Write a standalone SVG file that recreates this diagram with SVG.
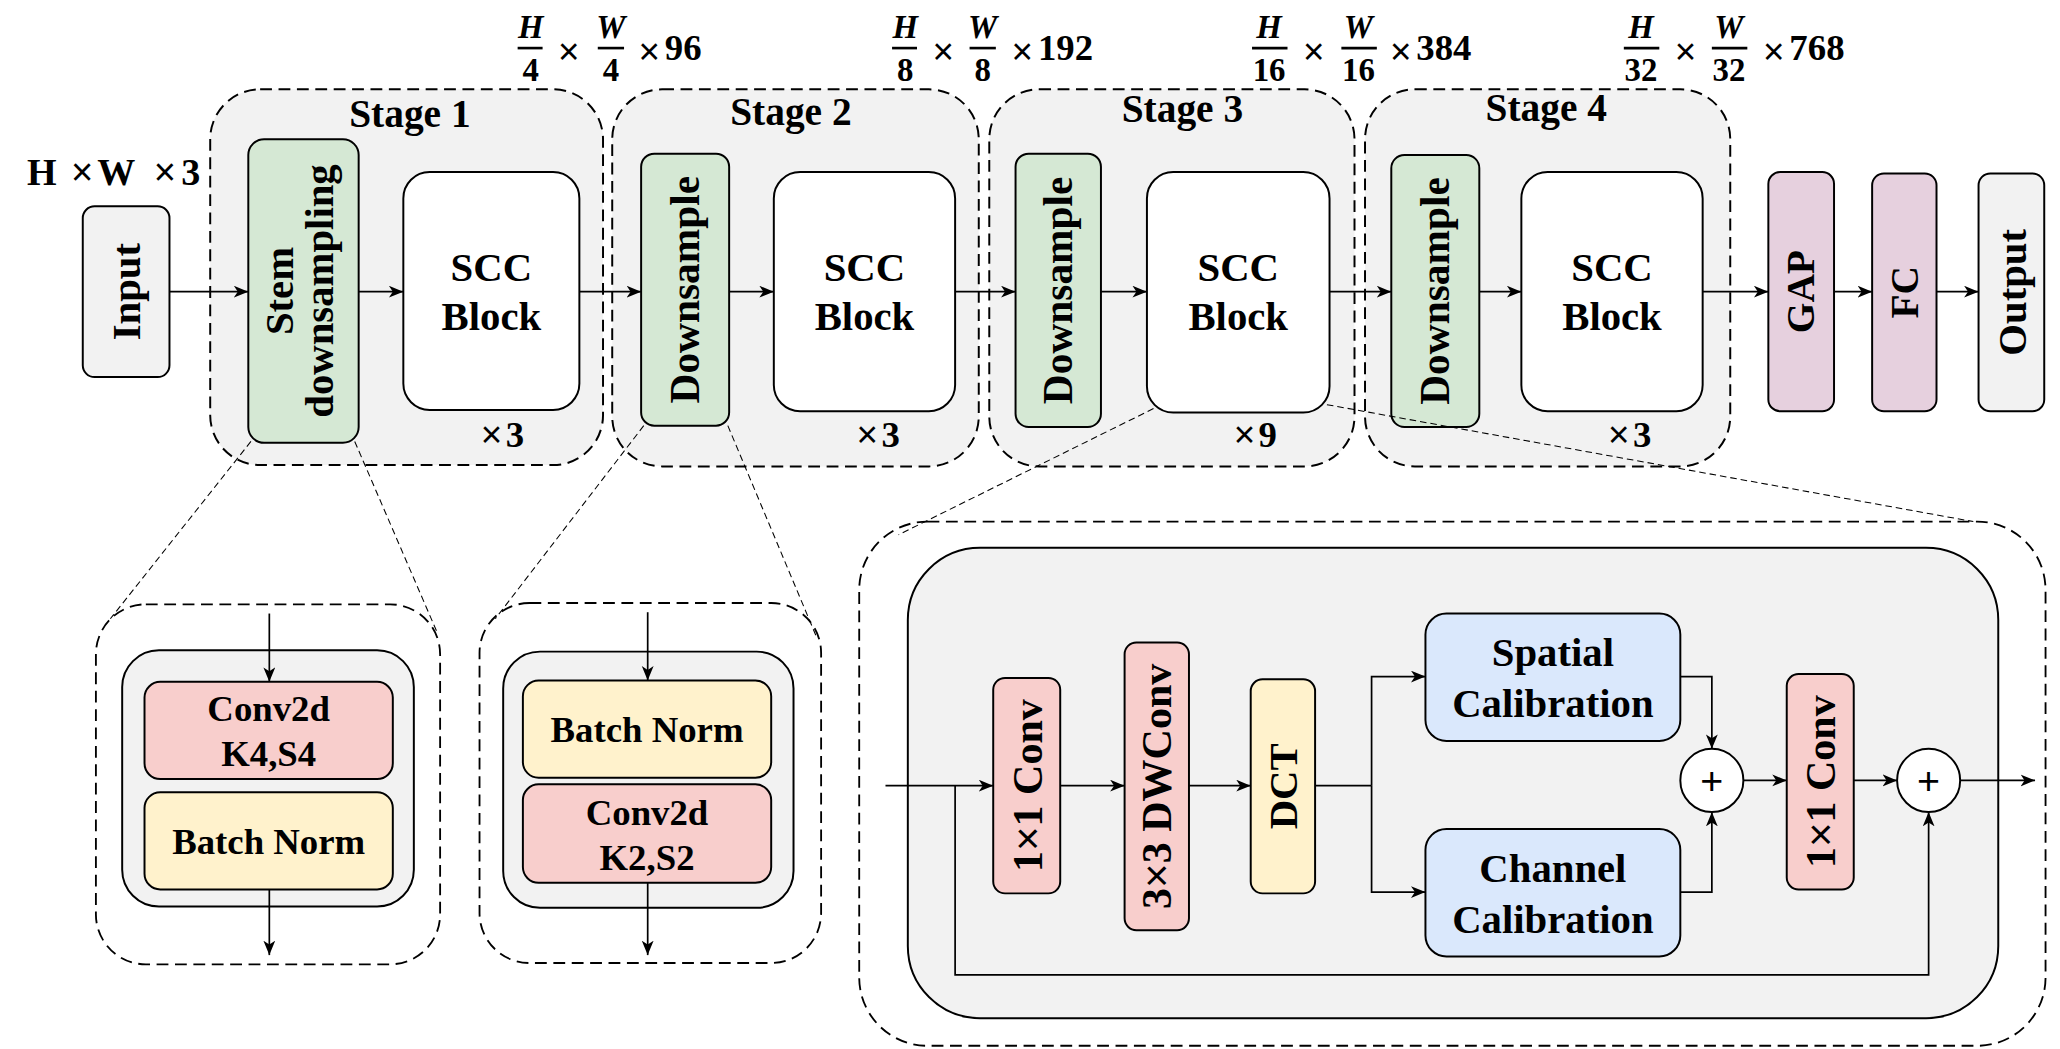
<svg xmlns="http://www.w3.org/2000/svg" width="2060" height="1049" viewBox="0 0 2060 1049">
<style>
.t{font-family:"Liberation Serif","Times New Roman",serif;font-weight:bold;fill:#000}
.m{text-anchor:middle}
.x{font-family:"Liberation Sans",Arial,sans-serif;font-weight:normal}
.it{font-style:italic}
.b{stroke:#000;stroke-width:1.5}
.stage{fill:#f2f2f2;stroke:#000;stroke-width:1.5;stroke-dasharray:9 5}
.dash{fill:#fff;stroke:#000;stroke-width:1.4;stroke-dasharray:9 5}
.guide{fill:none;stroke:#000;stroke-width:0.8;stroke-dasharray:5 3}
.ln{fill:none;stroke:#000;stroke-width:1.3}
.ar{marker-end:url(#ah)}
.grey{fill:#f2f2f2}
.green{fill:#d5e8d4}
.pink{fill:#f8cecc}
.yellow{fill:#fff2cc}
.blue{fill:#dae8fc}
.mauve{fill:#e6d0de}
.white{fill:#fff}
.bar{stroke:#000;stroke-width:2}
</style>
<defs>
<marker id="ah" markerUnits="userSpaceOnUse" markerWidth="12" markerHeight="10" refX="11" refY="4.5" orient="auto">
<path d="M0,0 L11,4.5 L0,9 L3,4.5 z" fill="#000"/>
</marker>
</defs>
<rect width="2060" height="1049" fill="#fff"/>
<g transform="scale(1.31378)">

<!-- dimension labels -->
<g id="dims">
<text class="t" font-size="29" y="141"><tspan x="20.5">H</tspan><tspan class="x" x="54">×</tspan><tspan x="74">W</tspan><tspan class="x" x="117">×</tspan><tspan x="138">3</tspan></text>

<g id="dim1">
<text class="t it m" font-size="25" x="404" y="29">H</text>
<line class="bar" x1="394" y1="36.6" x2="413" y2="36.6"/>
<text class="t m" font-size="25" x="404" y="62">4</text>
<text class="t x m" font-size="28" x="433" y="49">×</text>
<text class="t it m" font-size="25" x="465" y="29">W</text>
<line class="bar" x1="455" y1="36.6" x2="475" y2="36.6"/>
<text class="t m" font-size="25" x="465" y="62">4</text>
<text class="t x" font-size="28" x="486" y="49">×</text>
<text class="t" font-size="28" x="506" y="46">96</text>
</g>

<g id="dim2">
<text class="t it m" font-size="25" x="689" y="29">H</text>
<line class="bar" x1="679" y1="36.6" x2="698" y2="36.6"/>
<text class="t m" font-size="25" x="689" y="62">8</text>
<text class="t x m" font-size="28" x="718" y="49">×</text>
<text class="t it m" font-size="25" x="748" y="29">W</text>
<line class="bar" x1="738" y1="36.6" x2="758" y2="36.6"/>
<text class="t m" font-size="25" x="748" y="62">8</text>
<text class="t x" font-size="28" x="770" y="49">×</text>
<text class="t" font-size="28" x="790" y="46">192</text>
</g>

<g id="dim3">
<text class="t it m" font-size="25" x="966" y="29">H</text>
<line class="bar" x1="953" y1="36.6" x2="980" y2="36.6"/>
<text class="t m" font-size="25" x="966" y="62">16</text>
<text class="t x m" font-size="28" x="1000" y="49">×</text>
<text class="t it m" font-size="25" x="1034" y="29">W</text>
<line class="bar" x1="1021" y1="36.6" x2="1048" y2="36.6"/>
<text class="t m" font-size="25" x="1034" y="62">16</text>
<text class="t x" font-size="28" x="1058" y="49">×</text>
<text class="t" font-size="28" x="1078" y="46">384</text>
</g>

<g id="dim4">
<text class="t it m" font-size="25" x="1249" y="29">H</text>
<line class="bar" x1="1236" y1="36.6" x2="1263" y2="36.6"/>
<text class="t m" font-size="25" x="1249" y="62">32</text>
<text class="t x m" font-size="28" x="1283" y="49">×</text>
<text class="t it m" font-size="25" x="1316" y="29">W</text>
<line class="bar" x1="1303" y1="36.6" x2="1330" y2="36.6"/>
<text class="t m" font-size="25" x="1316" y="62">32</text>
<text class="t x" font-size="28" x="1342" y="49">×</text>
<text class="t" font-size="28" x="1362" y="46">768</text>
</g>
</g>

<!-- stages -->
<g id="stage1">
<rect class="stage" x="160" y="68" width="299" height="286" rx="38"/>
<text class="t m" font-size="30" x="312" y="97">Stage 1</text>
<text class="t" font-size="28" y="340"><tspan class="x" x="366">×</tspan><tspan x="385">3</tspan></text>
</g>
<g id="stage2">
<rect class="stage" x="466" y="68" width="279" height="287" rx="38"/>
<text class="t m" font-size="30" x="602" y="95">Stage 2</text>
<text class="t" font-size="28" y="340"><tspan class="x" x="652">×</tspan><tspan x="671">3</tspan></text>
</g>
<g id="stage3">
<rect class="stage" x="753" y="68" width="278" height="287" rx="38"/>
<text class="t m" font-size="30" x="900" y="93">Stage 3</text>
<text class="t" font-size="28" y="340"><tspan class="x" x="939">×</tspan><tspan x="958">9</tspan></text>
</g>
<g id="stage4">
<rect class="stage" x="1039" y="68" width="278" height="287" rx="38"/>
<text class="t m" font-size="30" x="1177" y="92">Stage 4</text>
<text class="t" font-size="28" y="340"><tspan class="x" x="1224">×</tspan><tspan x="1243">3</tspan></text>
</g>

<!-- detail backgrounds -->
<g id="stem-detail">
<rect class="dash" x="73" y="460" width="262" height="274" rx="38"/>
<rect class="b grey" x="93" y="495" width="222" height="195" rx="28"/>
</g>
<g id="down-detail">
<rect class="dash" x="365" y="459" width="260" height="274" rx="38"/>
<rect class="b grey" x="383" y="496" width="221" height="195" rx="28"/>
</g>
<g id="scc-detail">
<rect class="dash" x="654" y="397" width="903" height="399" rx="52"/>
<rect class="b grey" x="691" y="417" width="830" height="358" rx="55"/>
</g>

<!-- connectors -->
<g id="connectors">
<line class="ln ar" x1="129" y1="222" x2="189" y2="222"/>
<line class="ln ar" x1="273" y1="222" x2="307" y2="222"/>
<line class="ln ar" x1="441" y1="222" x2="488" y2="222"/>
<line class="ln ar" x1="555" y1="222" x2="589" y2="222"/>
<line class="ln ar" x1="727" y1="222" x2="773" y2="222"/>
<line class="ln ar" x1="838" y1="222" x2="873" y2="222"/>
<line class="ln ar" x1="1012" y1="222" x2="1059" y2="222"/>
<line class="ln ar" x1="1126" y1="222" x2="1158" y2="222"/>
<line class="ln ar" x1="1296" y1="222" x2="1346" y2="222"/>
<line class="ln ar" x1="1396" y1="222" x2="1425" y2="222"/>
<line class="ln ar" x1="1474" y1="222" x2="1506" y2="222"/>

<line class="ln ar" x1="205" y1="467" x2="205" y2="519"/>
<line class="ln ar" x1="205" y1="677" x2="205" y2="727"/>
<line class="ln ar" x1="493" y1="466" x2="493" y2="518"/>
<line class="ln ar" x1="493" y1="672" x2="493" y2="727"/>

<line class="ln ar" x1="674" y1="598" x2="756" y2="598"/>
<line class="ln ar" x1="807" y1="598" x2="856" y2="598"/>
<line class="ln ar" x1="905" y1="598" x2="952" y2="598"/>
<polyline class="ln" points="1001,598 1044,598"/>
<polyline class="ln ar" points="1044,598 1044,515 1085,515"/>
<polyline class="ln ar" points="1044,598 1044,679 1085,679"/>
<polyline class="ln ar" points="1279,515 1303,515 1303,570"/>
<polyline class="ln ar" points="1279,679 1303,679 1303,618"/>
<line class="ln ar" x1="1327" y1="594" x2="1360" y2="594"/>
<line class="ln ar" x1="1411" y1="594" x2="1444" y2="594"/>
<line class="ln ar" x1="1492" y1="594" x2="1549" y2="594"/>
<polyline class="ln ar" points="727,598 727,742 1468,742 1468,618"/>
</g>

<!-- nodes -->
<g id="input">
<rect class="b grey" x="63" y="157" width="66" height="130" rx="9"/>
<text class="t m" font-size="31" transform="translate(106.5,222) rotate(-90)">Input</text>
</g>
<g id="stem">
<rect class="b green" x="189" y="106" width="84" height="231" rx="12"/>
<text class="t m" font-size="31" transform="translate(223,221.5) rotate(-90)">Stem</text>
<text class="t m" font-size="31" transform="translate(253.5,221.5) rotate(-90)">downsampling</text>
</g>
<g id="scc1">
<rect class="b white" x="307" y="131" width="134" height="181" rx="20"/>
<text class="t m" font-size="31" x="374" y="214">SCC</text>
<text class="t m" font-size="31" x="374" y="251">Block</text>
</g>
<g id="down2">
<rect class="b green" x="488" y="117" width="67" height="207" rx="10"/>
<text class="t m" font-size="31.5" transform="translate(532,220.5) rotate(-90)">Downsample</text>
</g>
<g id="scc2">
<rect class="b white" x="589" y="131" width="138" height="182" rx="20"/>
<text class="t m" font-size="31" x="658" y="214">SCC</text>
<text class="t m" font-size="31" x="658" y="251">Block</text>
</g>
<g id="down3">
<rect class="b green" x="773" y="117" width="65" height="208" rx="10"/>
<text class="t m" font-size="31.5" transform="translate(816,221) rotate(-90)">Downsample</text>
</g>
<g id="scc3">
<rect class="b white" x="873" y="131" width="139" height="183" rx="20"/>
<text class="t m" font-size="31" x="942.5" y="214">SCC</text>
<text class="t m" font-size="31" x="942.5" y="251">Block</text>
</g>
<g id="down4">
<rect class="b green" x="1059" y="118" width="67" height="207" rx="10"/>
<text class="t m" font-size="31.5" transform="translate(1103,221.5) rotate(-90)">Downsample</text>
</g>
<g id="scc4">
<rect class="b white" x="1158" y="131" width="138" height="182" rx="20"/>
<text class="t m" font-size="31" x="1227" y="214">SCC</text>
<text class="t m" font-size="31" x="1227" y="251">Block</text>
</g>
<g id="gap">
<rect class="b mauve" x="1346" y="131" width="50" height="182" rx="9"/>
<text class="t m" font-size="30" transform="translate(1381,222) rotate(-90)">GAP</text>
</g>
<g id="fc">
<rect class="b mauve" x="1425" y="132" width="49" height="181" rx="9"/>
<text class="t m" font-size="30" transform="translate(1460,222.5) rotate(-90)">FC</text>
</g>
<g id="output">
<rect class="b grey" x="1506" y="132" width="50" height="181" rx="9"/>
<text class="t m" font-size="31" transform="translate(1542,222.5) rotate(-90)">Output</text>
</g>

<g id="stem-conv">
<rect class="b pink" x="110" y="519" width="189" height="74" rx="12"/>
<text class="t m" font-size="28" x="204.5" y="549">Conv2d</text>
<text class="t m" font-size="28" x="204.5" y="583">K4,S4</text>
</g>
<g id="stem-bn">
<rect class="b yellow" x="110" y="603" width="189" height="74" rx="12"/>
<text class="t m" font-size="28" x="204.5" y="650">Batch Norm</text>
</g>
<g id="down-bn">
<rect class="b yellow" x="398" y="518" width="189" height="74" rx="12"/>
<text class="t m" font-size="28" x="492.5" y="565">Batch Norm</text>
</g>
<g id="down-conv">
<rect class="b pink" x="398" y="597" width="189" height="75" rx="12"/>
<text class="t m" font-size="28" x="492.5" y="628">Conv2d</text>
<text class="t m" font-size="28" x="492.5" y="662">K2,S2</text>
</g>

<g id="conv1x1a">
<rect class="b pink" x="756" y="516" width="51" height="164" rx="9"/>
<text class="t m" font-size="32" transform="translate(793,598) rotate(-90)">1<tspan class="x">×</tspan>1 Conv</text>
</g>
<g id="dwconv">
<rect class="b pink" x="856" y="489" width="49" height="219" rx="9"/>
<text class="t m" font-size="32" transform="translate(891.5,598.5) rotate(-90)">3<tspan class="x">×</tspan>3 DWConv</text>
</g>
<g id="dct">
<rect class="b yellow" x="952" y="517" width="49" height="163" rx="9"/>
<text class="t m" font-size="31" transform="translate(987,598.5) rotate(-90)">DCT</text>
</g>
<g id="spatial">
<rect class="b blue" x="1085" y="467" width="194" height="97" rx="16"/>
<text class="t m" font-size="31" x="1182" y="507">Spatial</text>
<text class="t m" font-size="31" x="1182" y="546">Calibration</text>
</g>
<g id="channel">
<rect class="b blue" x="1085" y="631" width="194" height="97" rx="16"/>
<text class="t m" font-size="31" x="1182" y="671">Channel</text>
<text class="t m" font-size="31" x="1182" y="710">Calibration</text>
</g>
<g id="add1">
<circle class="b white" cx="1303" cy="594" r="24"/>
<text class="x m" font-size="30" x="1303" y="604.5">+</text>
</g>
<g id="conv1x1b">
<rect class="b pink" x="1360" y="513" width="51" height="164" rx="9"/>
<text class="t m" font-size="32" transform="translate(1397,595) rotate(-90)">1<tspan class="x">×</tspan>1 Conv</text>
</g>
<g id="add2">
<circle class="b white" cx="1468" cy="594" r="24"/>
<text class="x m" font-size="30" x="1468" y="604.5">+</text>
</g>

<!-- zoom guide lines (drawn over nodes) -->
<g id="guides">
<line class="guide" x1="191" y1="336" x2="84" y2="471"/>
<line class="guide" x1="270" y1="336" x2="333" y2="482"/>
<line class="guide" x1="490" y1="324" x2="377" y2="471"/>
<line class="guide" x1="554" y1="324" x2="622" y2="486"/>
<line class="guide" x1="878" y1="311" x2="684" y2="407"/>
<line class="guide" x1="1010" y1="308" x2="1502" y2="397"/>
</g>
</g>
</svg>
